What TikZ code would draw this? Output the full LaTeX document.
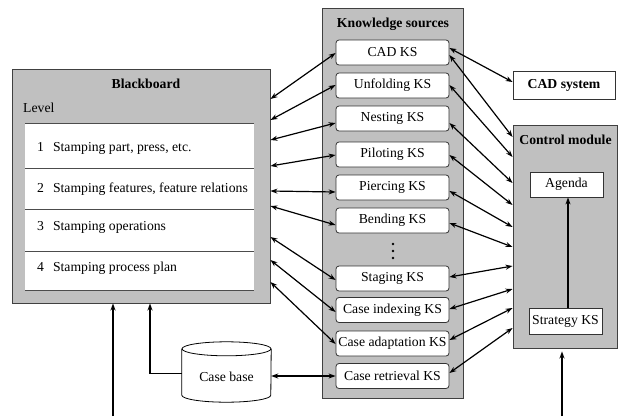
\documentclass[tikz,border=0pt]{standalone}
\usepackage{fontspec}
\setmainfont{Liberation Serif}
\usetikzlibrary{arrows.meta}
\definecolor{panelgray}{RGB}{192,192,192}
\begin{document}
\begin{tikzpicture}[x=1pt,y=-1pt,
  font=\fontsize{13.7}{16}\selectfont,
  panel/.style={draw=black!75, line width=0.9pt, fill=panelgray, inner sep=0pt},
  ks/.style={draw=black!80, line width=0.8pt, fill=white, rounded corners=3pt, minimum width=113pt, minimum height=25pt, inner sep=0pt},
  wbox/.style={draw=black!80, line width=0.8pt, fill=white, inner sep=0pt},
  link/.style={line width=1.2pt, {Stealth[length=7pt,width=5pt]}-{Stealth[length=7pt,width=5pt]}},
  uparrow/.style={line width=1.2pt, -{Stealth[length=7pt,width=5pt]}},
  sepline/.style={draw=black!70, line width=0.8pt},
  lbl/.style={inner sep=0pt},
]
\path[use as bounding box] (0,0) rectangle (622,416);

% Blackboard
\node[panel, minimum width=258pt, minimum height=234pt] (bb) at (141,186) {};
\node[lbl] (bbtitle) at (146,84) {\textbf{Blackboard}};
\node[lbl, anchor=west] (level) at (23,108) {Level};
\node[fill=white, minimum width=229pt, minimum height=166pt, inner sep=0pt] (levels) at (139.5,207) {};
\draw[sepline] (levels.north west) -- (levels.north east);
\draw[sepline] (levels.west |- 0,168) -- (levels.east |- 0,168);
\draw[sepline] (levels.west |- 0,209) -- (levels.east |- 0,209);
\draw[sepline] (levels.west |- 0,251) -- (levels.east |- 0,251);
\draw[sepline] (levels.south west) -- (levels.south east);
\node[lbl, anchor=west] (r1) at (37,148) {1\hspace{9pt}Stamping part, press, etc.};
\node[lbl, anchor=west] (r2) at (37,189) {2\hspace{9pt}Stamping features, feature relations};
\node[lbl, anchor=west] (r3) at (37,227) {3\hspace{9pt}Stamping operations};
\node[lbl, anchor=west] (r4) at (37,268) {4\hspace{9pt}Stamping process plan};

% Knowledge sources
\node[panel, minimum width=141pt, minimum height=390pt] (kspanel) at (392.5,203) {};
\node[lbl] (kstitle) at (393,24) {\textbf{Knowledge sources}};
\node[ks] (cad) at (392.5,52.5) {CAD KS};
\node[ks] (unf) at (392.5,85.5) {Unfolding KS};
\node[ks] (nest) at (392.5,118.5) {Nesting KS};
\node[ks] (pil) at (392.5,154.5) {Piloting KS};
\node[ks] (pier) at (392.5,187.5) {Piercing KS};
\node[ks] (bend) at (392.5,220.5) {Bending KS};
\fill (393,244) circle (1.4pt);
\fill (393,251) circle (1.4pt);
\fill (393,258) circle (1.4pt);
\node[ks] (stag) at (392.5,278.5) {Staging KS};
\node[ks] (idx) at (392.5,310) {Case indexing KS};
\node[ks] (adapt) at (392.5,343.5) {Case adaptation KS};
\node[ks] (retr) at (392.5,376) {Case retrieval KS};

% CAD system and control module
\node[wbox, minimum width=102pt, minimum height=28pt] (cadsys) at (564,85) {\textbf{CAD system}};
\node[panel, minimum width=104pt, minimum height=223pt] (ctrl) at (565,236.5) {};
\node[lbl] (ctrltitle) at (565.5,140) {\textbf{Control module}};
\node[wbox, minimum width=73pt, minimum height=25pt] (agenda) at (566.5,184.5) {Agenda};
\node[wbox, minimum width=73pt, minimum height=26pt] (strat) at (565.5,321) {Strategy KS};
\draw[uparrow] (strat.north -| 568,0) -- (agenda.south -| 568,0);

% Case base cylinder
\node[minimum width=89pt, minimum height=53pt, inner sep=0pt] (casebase) at (226.5,375.5) {};
\draw[line width=0.8pt, fill=white] (casebase.north west) -- ([yshift=7pt]casebase.south west)
  arc[start angle=180, end angle=360, x radius=44.5pt, y radius=7pt] -- (casebase.north east);
\draw[line width=0.8pt, fill=white] (casebase.north) ellipse[x radius=44.5pt, y radius=7pt];
\node[lbl] (cbtext) at (226.5,377) {Case base};

% Blackboard <-> KS
\draw[link] (bb.east |- 0,99) -- (cad.west |- 0,53);
\draw[link] (bb.east |- 0,120) -- (unf.west |- 0,85);
\draw[link] (bb.east |- 0,140) -- (nest.west |- 0,123);
\draw[link] (bb.east |- 0,166) -- (pil.west |- 0,155);
\draw[link] (bb.east |- 0,191) -- (pier.west |- 0,192);
\draw[link] (bb.east |- 0,206) -- (bend.west |- 0,225);
\draw[link] (bb.east |- 0,237) -- (stag.west |- 0,280);
\draw[link] (bb.east |- 0,260) -- (idx.west |- 0,312);
\draw[link] (bb.east |- 0,282) -- (adapt.west |- 0,344);

% KS <-> CAD system / control module
\draw[link] (cad.east |- 0,48) -- (cadsys.west |- 0,82);
\draw[link] (cad.east |- 0,55) -- (ctrl.west |- 0,137);
\draw[link] (unf.east |- 0,85) -- (ctrl.west |- 0,157);
\draw[link] (nest.east |- 0,123) -- (ctrl.west |- 0,183);
\draw[link] (pil.east |- 0,155) -- (ctrl.west |- 0,205);
\draw[link] (pier.east |- 0,191) -- (ctrl.west |- 0,227);
\draw[link] (bend.east |- 0,223) -- (ctrl.west |- 0,247);
\draw[link] (stag.east |- 0,277) -- (ctrl.west |- 0,266);
\draw[link] (idx.east |- 0,309) -- (ctrl.west |- 0,289);
\draw[link] (adapt.east |- 0,340) -- (ctrl.west |- 0,308);
\draw[link] (retr.east |- 0,373) -- (ctrl.west |- 0,328);

% Case base links
\draw[link] (retr.west) -- (retr.west -| casebase.east);
\draw[uparrow] ([yshift=2pt]casebase.west) -| (bb.south -| 150,0);

% Inputs from below
\coordinate (inbb) at (113,416);
\coordinate (inctrl) at (562,416);
\draw[uparrow] (inbb) -- (inbb |- bb.south);
\draw[uparrow, shorten >=3pt] (inctrl) -- (inctrl |- ctrl.south);
\end{tikzpicture}
\end{document}
